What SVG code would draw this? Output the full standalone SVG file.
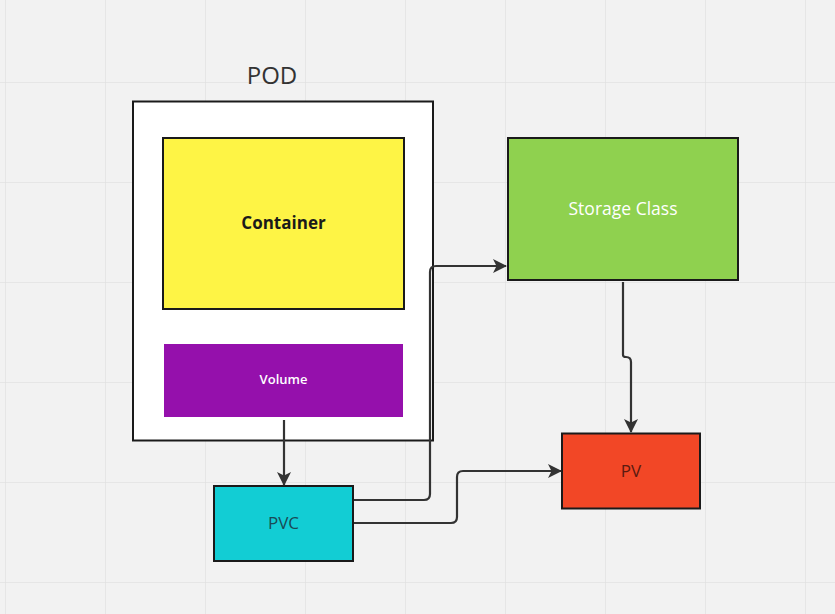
<svg xmlns="http://www.w3.org/2000/svg" width="835" height="614" viewBox="0 0 835 614">
<defs>
<pattern id="grid" x="5" y="82" width="100" height="100" patternUnits="userSpaceOnUse">
<path d="M0 0H100M0 0V100" fill="none" stroke="#e2e2e2" stroke-width="1.5"/>
</pattern>
<marker id="arr" viewBox="0 0 14 14" refX="13" refY="7" markerWidth="14" markerHeight="14" markerUnits="userSpaceOnUse" orient="auto">
<path d="M0 0L14 7L0 14L3.5 7Z" fill="#333"/>
</marker>
<style>
.lbl{font-family:"Open Sans","Noto Sans",sans-serif;text-anchor:middle;dominant-baseline:central}
.conn{fill:none;stroke:#333;stroke-width:2.2}
</style>
</defs>
<rect width="835" height="614" fill="#f2f2f2"/>
<rect width="835" height="614" fill="url(#grid)"/>
<g id="pod">
<text class="lbl" x="272" y="74" font-size="24" fill="#333">POD</text>
<rect x="133" y="101.5" width="300" height="339" fill="#fff" stroke="#1a1a1a" stroke-width="2"/>
</g>
<g id="container">
<rect x="163" y="138" width="241" height="171" fill="#fef445" stroke="#1a1a1a" stroke-width="2"/>
<text class="lbl" x="283.5" y="222" font-size="17" font-weight="bold" fill="#1a1a1a">Container</text>
</g>
<g id="volume">
<rect x="164" y="344" width="239" height="73" fill="#9510ac"/>
<text class="lbl" x="283.5" y="379" font-size="13" font-weight="600" fill="#fff">Volume</text>
</g>
<g id="pvc">
<rect x="214" y="486" width="139" height="75" fill="#12cdd4" stroke="#1a1a1a" stroke-width="2"/>
<text class="lbl" x="283.5" y="522" font-size="17" fill="#1a4a55">PVC</text>
</g>
<g id="storage-class">
<rect x="508" y="138" width="230" height="142" fill="#8fd14f" stroke="#1a1a1a" stroke-width="2"/>
<text class="lbl" x="623" y="208" font-size="17.5" font-weight="500" fill="#fff">Storage Class</text>
</g>
<g id="pv">
<rect x="562" y="433.5" width="138" height="75" fill="#f24726" stroke="#1a1a1a" stroke-width="2"/>
<text class="lbl" x="631" y="470" font-size="17" fill="#5a1a10">PV</text>
</g>
<g id="connectors">
<path class="conn" d="M284 420V485" marker-end="url(#arr)"/>
<path class="conn" d="M354 500H424Q430 500 430 494V272Q430 266 436 266H506" marker-end="url(#arr)"/>
<path class="conn" d="M354 523H451Q457 523 457 517V477Q457 471 463 471H561" marker-end="url(#arr)"/>
<path class="conn" d="M623 282V355Q623 357 626 357Q631 357 631 362V432" marker-end="url(#arr)"/>
</g>
</svg>
